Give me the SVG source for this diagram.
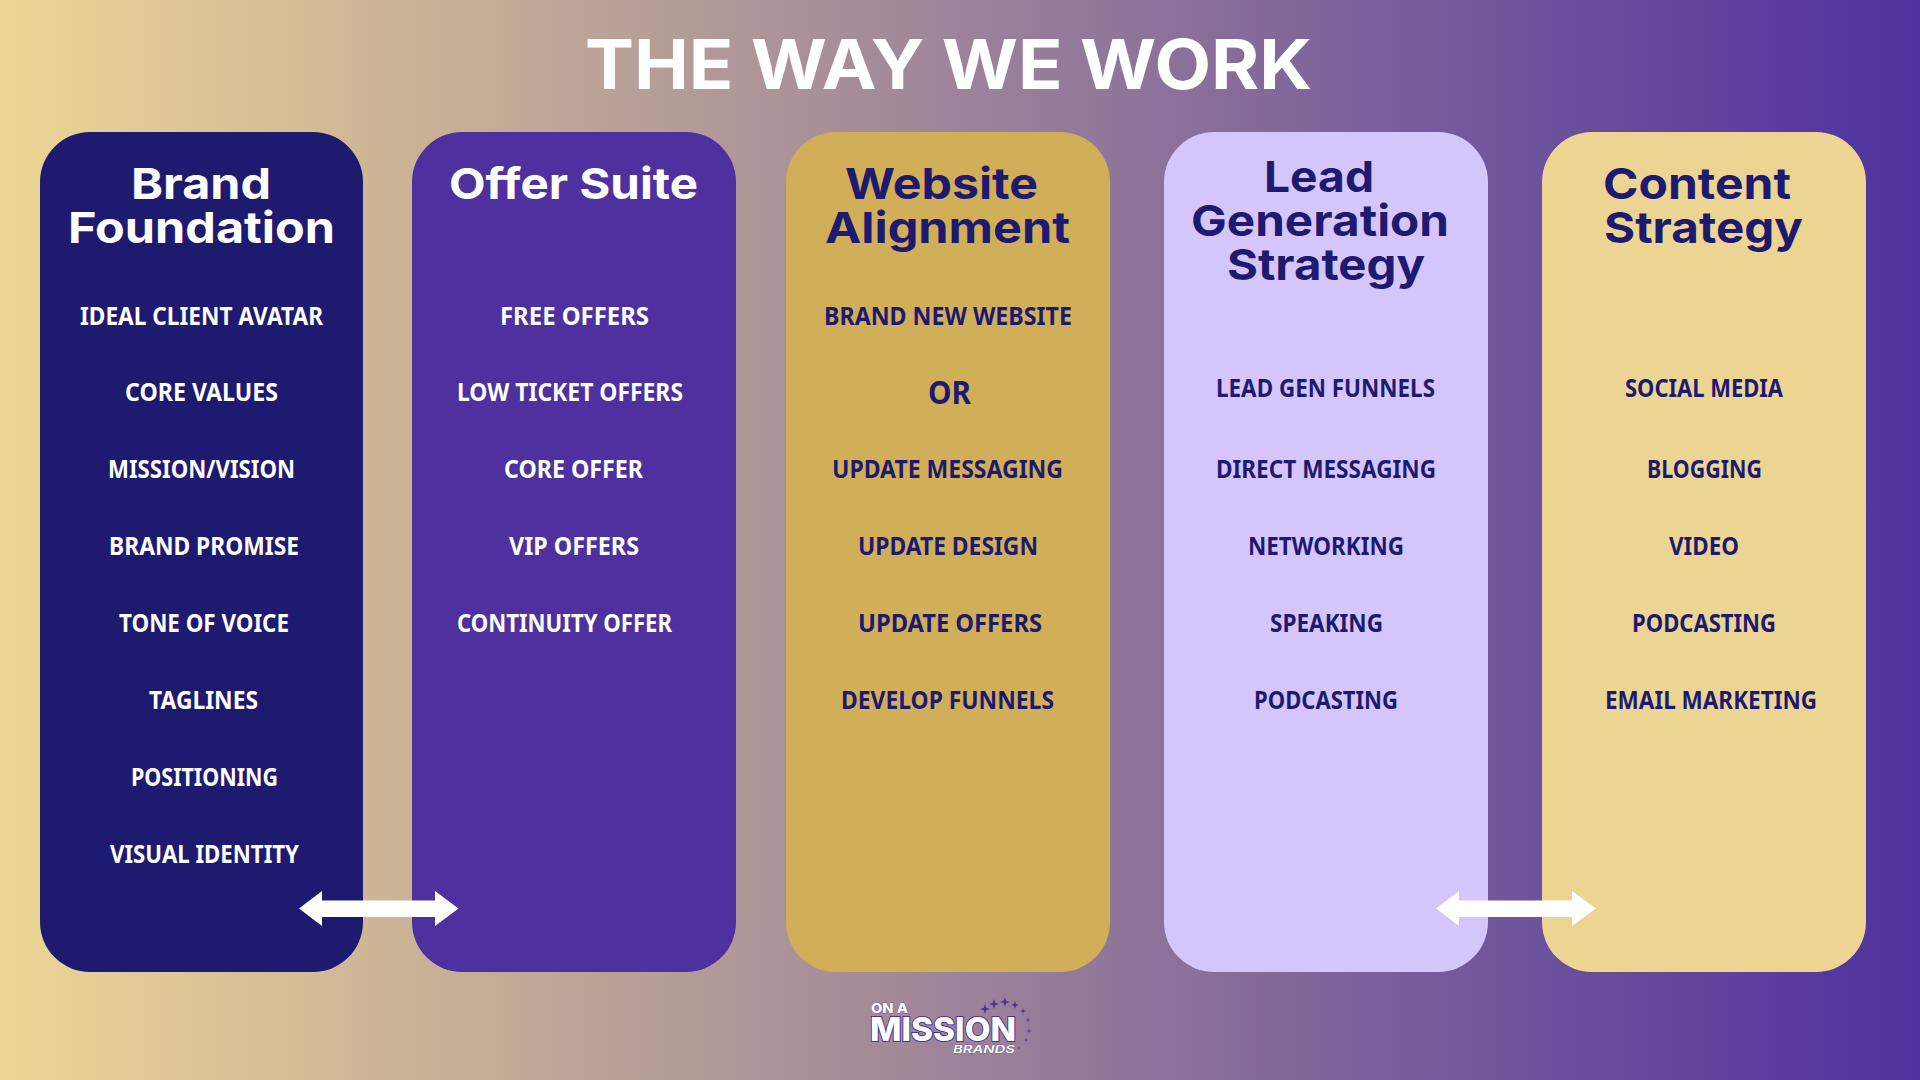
<svg xmlns="http://www.w3.org/2000/svg" width="1920" height="1080" viewBox="0 0 1920 1080">
<defs>
<linearGradient id="bg" x1="0" y1="0" x2="1" y2="0"><stop offset="0" stop-color="#ecd694"/><stop offset="1" stop-color="#4e319e"/></linearGradient>
<path id="star" d="M0,-5 L1.2,-1.2 L5,0 L1.2,1.2 L0,5 L-1.2,1.2 L-5,0 L-1.2,-1.2 Z" fill="#4e319e"/>
</defs>
<style>
.card{stroke:none}
.h{font-family:Inter,"Open Sans",sans-serif;font-weight:700;font-size:43px;text-anchor:start}
.t{font-family:"Noto Sans","Open Sans",sans-serif;font-weight:700;font-size:25px;text-anchor:start}
.w{fill:#fff}
.n{fill:#1e1a6f}
.arrow{fill:#fff}
</style>
<rect width="1920" height="1080" fill="url(#bg)"/>
<text x="585" y="89" textLength="727" lengthAdjust="spacingAndGlyphs" font-family="Inter,'Open Sans',sans-serif" font-weight="700" font-size="69" fill="#fff">THE WAY WE WORK</text>
<g id="card-brand-foundation">
<rect class="card" x="40" y="132" width="323" height="840" rx="50" fill="#1e1a6f"/>
<text class="h w" x="131" y="199" textLength="140" lengthAdjust="spacingAndGlyphs">Brand</text>
<text class="h w" x="68" y="243" textLength="267" lengthAdjust="spacingAndGlyphs">Foundation</text>
<text class="t w" x="80" y="325" textLength="243" lengthAdjust="spacingAndGlyphs">IDEAL CLIENT AVATAR</text>
<text class="t w" x="125" y="401" textLength="153" lengthAdjust="spacingAndGlyphs">CORE VALUES</text>
<text class="t w" x="108" y="478" textLength="187" lengthAdjust="spacingAndGlyphs">MISSION/VISION</text>
<text class="t w" x="109" y="555" textLength="190" lengthAdjust="spacingAndGlyphs">BRAND PROMISE</text>
<text class="t w" x="119" y="632" textLength="170" lengthAdjust="spacingAndGlyphs">TONE OF VOICE</text>
<text class="t w" x="149" y="709" textLength="109" lengthAdjust="spacingAndGlyphs">TAGLINES</text>
<text class="t w" x="131" y="786" textLength="147" lengthAdjust="spacingAndGlyphs">POSITIONING</text>
<text class="t w" x="110" y="863" textLength="189" lengthAdjust="spacingAndGlyphs">VISUAL IDENTITY</text>
</g>
<g id="card-offer-suite">
<rect class="card" x="412" y="132" width="324" height="840" rx="50" fill="#4e319e"/>
<text class="h w" x="449" y="199" textLength="249" lengthAdjust="spacingAndGlyphs">Offer Suite</text>
<text class="t w" x="500" y="325" textLength="149" lengthAdjust="spacingAndGlyphs">FREE OFFERS</text>
<text class="t w" x="457" y="401" textLength="226" lengthAdjust="spacingAndGlyphs">LOW TICKET OFFERS</text>
<text class="t w" x="504" y="478" textLength="139" lengthAdjust="spacingAndGlyphs">CORE OFFER</text>
<text class="t w" x="509" y="555" textLength="130" lengthAdjust="spacingAndGlyphs">VIP OFFERS</text>
<text class="t w" x="457" y="632" textLength="215" lengthAdjust="spacingAndGlyphs">CONTINUITY OFFER</text>
</g>
<g id="card-website-alignment">
<rect class="card" x="786" y="132" width="324" height="840" rx="50" fill="#d0af58"/>
<text class="h n" x="845" y="199" textLength="193" lengthAdjust="spacingAndGlyphs">Website</text>
<text class="h n" x="825" y="243" textLength="245" lengthAdjust="spacingAndGlyphs">Alignment</text>
<text class="t n" x="824" y="325" textLength="248" lengthAdjust="spacingAndGlyphs">BRAND NEW WEBSITE</text>
<text class="t n" x="928" y="404" textLength="43" lengthAdjust="spacingAndGlyphs" style="font-size:33px">OR</text>
<text class="t n" x="832" y="478" textLength="231" lengthAdjust="spacingAndGlyphs">UPDATE MESSAGING</text>
<text class="t n" x="858" y="555" textLength="180" lengthAdjust="spacingAndGlyphs">UPDATE DESIGN</text>
<text class="t n" x="858" y="632" textLength="184" lengthAdjust="spacingAndGlyphs">UPDATE OFFERS</text>
<text class="t n" x="841" y="709" textLength="213" lengthAdjust="spacingAndGlyphs">DEVELOP FUNNELS</text>
</g>
<g id="card-lead-generation">
<rect class="card" x="1164" y="132" width="324" height="840" rx="50" fill="#d4c5fb"/>
<text class="h n" x="1264" y="192" textLength="110" lengthAdjust="spacingAndGlyphs">Lead</text>
<text class="h n" x="1191" y="236" textLength="258" lengthAdjust="spacingAndGlyphs">Generation</text>
<text class="h n" x="1227" y="280" textLength="198" lengthAdjust="spacingAndGlyphs">Strategy</text>
<text class="t n" x="1216" y="397" textLength="219" lengthAdjust="spacingAndGlyphs">LEAD GEN FUNNELS</text>
<text class="t n" x="1216" y="478" textLength="220" lengthAdjust="spacingAndGlyphs">DIRECT MESSAGING</text>
<text class="t n" x="1248" y="555" textLength="156" lengthAdjust="spacingAndGlyphs">NETWORKING</text>
<text class="t n" x="1270" y="632" textLength="113" lengthAdjust="spacingAndGlyphs">SPEAKING</text>
<text class="t n" x="1254" y="709" textLength="144" lengthAdjust="spacingAndGlyphs">PODCASTING</text>
</g>
<g id="card-content-strategy">
<rect class="card" x="1542" y="132" width="324" height="840" rx="50" fill="#ecd592"/>
<text class="h n" x="1603" y="199" textLength="188" lengthAdjust="spacingAndGlyphs">Content</text>
<text class="h n" x="1604" y="243" textLength="199" lengthAdjust="spacingAndGlyphs">Strategy</text>
<text class="t n" x="1625" y="397" textLength="158" lengthAdjust="spacingAndGlyphs">SOCIAL MEDIA</text>
<text class="t n" x="1647" y="478" textLength="115" lengthAdjust="spacingAndGlyphs">BLOGGING</text>
<text class="t n" x="1669" y="555" textLength="70" lengthAdjust="spacingAndGlyphs">VIDEO</text>
<text class="t n" x="1632" y="632" textLength="144" lengthAdjust="spacingAndGlyphs">PODCASTING</text>
<text class="t n" x="1605" y="709" textLength="212" lengthAdjust="spacingAndGlyphs">EMAIL MARKETING</text>
</g>
<g id="connectors">
<path class="arrow" d="M299,908.5 L322,891 V900.5 H435 V891 L458.500,908.500 L435,926 V917 H322 V926 Z"/>
<path class="arrow" d="M1436,908.5 L1459,891 V900.5 H1572 V891 L1596,908.5 L1572,926 V917 H1459 V926 Z"/>
</g>
<g id="logo">
<text x="871" y="1013" textLength="37" lengthAdjust="spacingAndGlyphs" font-family="Inter,sans-serif" font-weight="800" font-size="13" fill="#fff" stroke="#4e319e" stroke-width="0.6" paint-order="stroke">ON A</text>
<text x="870" y="1041" textLength="146" lengthAdjust="spacingAndGlyphs" font-family="Inter,sans-serif" font-weight="800" font-size="33" fill="#fff" stroke="#4e319e" stroke-width="2" paint-order="stroke">MISSION</text>
<text x="953" y="1053" textLength="62" lengthAdjust="spacingAndGlyphs" font-family="Inter,sans-serif" font-weight="600" font-style="italic" font-size="11" fill="#fff" stroke="#4e319e" stroke-width="0.4" paint-order="stroke">BRANDS</text>
<use href="#star" transform="translate(985,1009)"/>
<use href="#star" transform="translate(994,1004)"/>
<use href="#star" transform="translate(1005,1002)"/>
<use href="#star" transform="translate(1015,1005) scale(.8)"/>
<use href="#star" transform="translate(1023,1011) scale(.6)"/>
<use href="#star" transform="translate(1028,1020) scale(.5)"/>
<use href="#star" transform="translate(1029,1031) scale(.5)"/>
<use href="#star" transform="translate(1026,1040) scale(.4)"/>
<use href="#star" transform="translate(1019,1048) scale(.3)"/>
</g>
</svg>
